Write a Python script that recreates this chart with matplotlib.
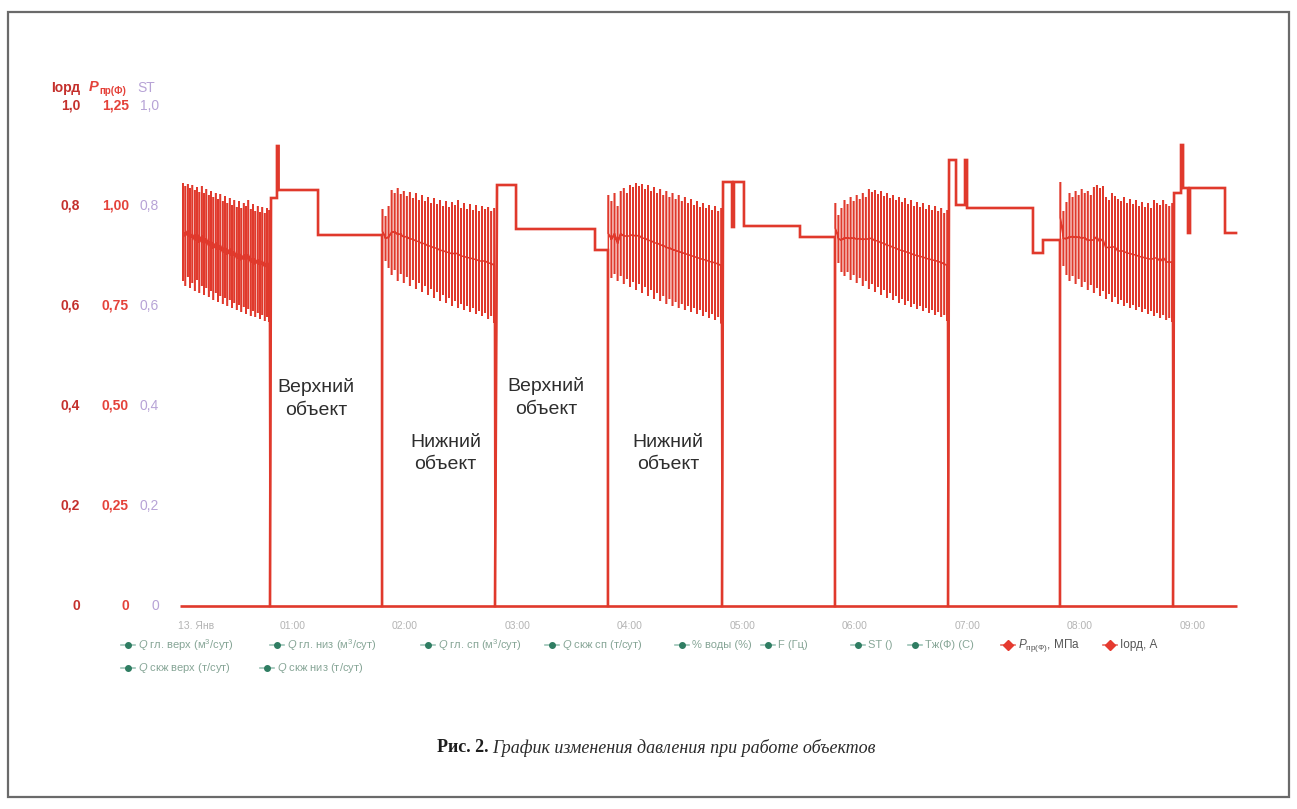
import numpy as np
import matplotlib
matplotlib.use('Agg')
import matplotlib.pyplot as plt
import matplotlib.transforms as mtransforms
from matplotlib.lines import Line2D
from matplotlib.patches import Rectangle

plt.rcParams['font.family'] = ['Liberation Sans', 'DejaVu Sans']
plt.rcParams['mathtext.fontset'] = 'custom'
plt.rcParams['mathtext.rm'] = 'Liberation Sans'
plt.rcParams['mathtext.it'] = 'Liberation Sans:italic'
plt.rcParams['mathtext.bf'] = 'Liberation Sans:bold'

W, H = 1297, 809
X0_PX, X1_PX = 180, 1237      # начало и конец оси времени (px)
Y0_PX, Y1_PX = 606, 106       # уровень 0 и 1.0 левой шкалы (px)
HOUR_PX = 112.5
T_MAX = (X1_PX - X0_PX) / HOUR_PX

LINE_RED = '#e0392c'

# 1. ДАННЫЕ (время в часах от 13 янв 00:00, значения по шкале Iорд 0..1)

hour_ticks = [0, 1, 2, 3, 4, 5, 6, 7, 8, 9]
hour_labels = ['13. Янв', '01:00', '02:00', '03:00', '04:00',
               '05:00', '06:00', '07:00', '08:00', '09:00']

iord_ticks = [0, 0.2, 0.4, 0.6, 0.8, 1.0]
iord_labels = ['0', '0,2', '0,4', '0,6', '0,8', '1,0']
p_ticks = [0, 0.25, 0.50, 0.75, 1.00, 1.25]
p_labels = ['0', '0,25', '0,50', '0,75', '1,00', '1,25']
st_ticks = [0, 0.2, 0.4, 0.6, 0.8, 1.0]
st_labels = ['0', '0,2', '0,4', '0,6', '0,8', '1,0']

# моменты переключения (провал до нуля)
drop_t = [0.800, 1.796, 2.800, 3.804, 4.818, 5.822, 6.827, 7.822, 8.827]
end_t = 9.387

# участки с пульсациями (нижний объект): начало, пики вверх и вниз
osc_start = [0.027, 1.800, 3.808, 5.826, 7.826]

osc_a_hi = [0.846, 0.840, 0.844, 0.836, 0.842, 0.832, 0.838, 0.828, 0.840, 0.826,
            0.834, 0.822, 0.830, 0.818, 0.826, 0.814, 0.824, 0.810, 0.820, 0.806,
            0.816, 0.802, 0.812, 0.798, 0.810, 0.796, 0.806, 0.800, 0.812, 0.794,
            0.804, 0.790, 0.800, 0.788, 0.798, 0.786, 0.796, 0.792]
osc_a_lo = [0.650, 0.640, 0.658, 0.636, 0.646, 0.630, 0.652, 0.626, 0.640, 0.622,
            0.636, 0.618, 0.630, 0.612, 0.626, 0.608, 0.620, 0.604, 0.616, 0.600,
            0.612, 0.596, 0.606, 0.592, 0.602, 0.588, 0.598, 0.584, 0.594, 0.580,
            0.590, 0.578, 0.586, 0.574, 0.582, 0.570, 0.578, 0.568]

osc_c_hi = [0.794, 0.780, 0.800, 0.832, 0.826, 0.836, 0.824, 0.830, 0.820, 0.828,
            0.816, 0.826, 0.812, 0.822, 0.810, 0.818, 0.806, 0.816, 0.804, 0.812,
            0.800, 0.810, 0.798, 0.808, 0.802, 0.812, 0.796, 0.806, 0.794, 0.804,
            0.792, 0.802, 0.790, 0.800, 0.794, 0.798, 0.790, 0.796]
osc_c_lo = [0.705, 0.690, 0.676, 0.662, 0.672, 0.650, 0.664, 0.646, 0.658, 0.640,
            0.652, 0.634, 0.646, 0.628, 0.640, 0.622, 0.634, 0.616, 0.628, 0.610,
            0.622, 0.606, 0.616, 0.600, 0.610, 0.596, 0.604, 0.592, 0.600, 0.588,
            0.596, 0.584, 0.590, 0.580, 0.586, 0.574, 0.580, 0.566]

osc_e_hi = [0.822, 0.810, 0.826, 0.800, 0.830, 0.836, 0.826, 0.842, 0.838, 0.846,
            0.840, 0.844, 0.834, 0.842, 0.830, 0.838, 0.826, 0.834, 0.822, 0.830,
            0.818, 0.826, 0.814, 0.822, 0.810, 0.818, 0.806, 0.814, 0.802, 0.810,
            0.798, 0.806, 0.796, 0.802, 0.792, 0.800, 0.790, 0.796]
osc_e_lo = [0.668, 0.656, 0.664, 0.650, 0.660, 0.644, 0.654, 0.638, 0.648, 0.632,
            0.644, 0.626, 0.638, 0.620, 0.632, 0.614, 0.626, 0.610, 0.620, 0.604,
            0.614, 0.600, 0.608, 0.596, 0.604, 0.592, 0.600, 0.588, 0.596, 0.584,
            0.592, 0.580, 0.588, 0.576, 0.584, 0.572, 0.578, 0.565]

osc_g_hi = [0.806, 0.782, 0.796, 0.812, 0.804, 0.818, 0.810, 0.822, 0.814, 0.826,
            0.818, 0.834, 0.828, 0.832, 0.824, 0.830, 0.820, 0.826, 0.816, 0.822,
            0.812, 0.818, 0.808, 0.816, 0.804, 0.812, 0.800, 0.808, 0.798, 0.806,
            0.794, 0.802, 0.792, 0.800, 0.790, 0.796, 0.786, 0.792]
osc_g_lo = [0.705, 0.686, 0.668, 0.660, 0.668, 0.652, 0.662, 0.646, 0.656, 0.640,
            0.650, 0.634, 0.644, 0.628, 0.638, 0.622, 0.632, 0.616, 0.626, 0.612,
            0.620, 0.606, 0.614, 0.602, 0.610, 0.598, 0.604, 0.594, 0.600, 0.590,
            0.596, 0.586, 0.592, 0.582, 0.588, 0.578, 0.582, 0.570]

osc_i_hi = [0.848, 0.790, 0.808, 0.826, 0.818, 0.830, 0.822, 0.834, 0.826, 0.830,
            0.822, 0.838, 0.842, 0.836, 0.840, 0.818, 0.812, 0.826, 0.820, 0.814,
            0.810, 0.818, 0.806, 0.814, 0.804, 0.812, 0.800, 0.808, 0.798, 0.806,
            0.796, 0.812, 0.806, 0.802, 0.812, 0.804, 0.800, 0.806]
osc_i_lo = [0.705, 0.680, 0.662, 0.650, 0.660, 0.644, 0.654, 0.638, 0.648, 0.632,
            0.642, 0.626, 0.636, 0.620, 0.630, 0.614, 0.624, 0.608, 0.618, 0.604,
            0.612, 0.600, 0.606, 0.596, 0.602, 0.592, 0.598, 0.588, 0.594, 0.584,
            0.590, 0.580, 0.586, 0.576, 0.582, 0.572, 0.576, 0.568]

# ступенчатые участки (верхний объект): время начала уровня и уровень
step_b_t = [0.809, 0.862, 0.876, 1.227]
step_b_v = [0.816, 0.920, 0.832, 0.742]
step_d_t = [2.818, 2.987, 3.689]
step_d_v = [0.842, 0.754, 0.712]
step_f_t = [4.827, 4.907, 4.924, 5.013, 5.511]
step_f_v = [0.848, 0.758, 0.848, 0.760, 0.738]
step_h_t = [6.836, 6.898, 6.978, 6.996, 7.582, 7.671]
step_h_v = [0.892, 0.802, 0.892, 0.796, 0.706, 0.732]
step_j_t = [8.836, 8.898, 8.916, 8.960, 8.978, 9.289]
step_j_v = [0.826, 0.922, 0.836, 0.746, 0.836, 0.746]

# второй ряд (Iорд) лежит на нуле
iord_t = [0, T_MAX]
iord_v = [0, 0]

# подписи режимов
zone_labels = ['Верхний\nобъект', 'Нижний\nобъект', 'Верхний\nобъект', 'Нижний\nобъект']
zone_t = [1.209, 2.36, 3.253, 4.34]
zone_v = [0.415, 0.305, 0.417, 0.305]

legend_row1 = ['$Q$ гл. верх (м$^3$/сут)', '$Q$ гл. низ (м$^3$/сут)', '$Q$ гл. сп (м$^3$/сут)',
               '$Q$ скж сп (т/сут)', '% воды (%)', 'F (Гц)', 'ST ()', 'Тж(Ф) (С)',
               '$P_{\\mathrm{пр(Ф)}}$, МПа', 'Iорд, А']
legend_row2 = ['$Q$ скж верх (т/сут)', '$Q$ скж низ (т/сут)']


# 2. СБОРКА РЯДА

def build_osc(t0, t1, hi, lo):
    """Пульсации: вертикальный размах hi-lo вокруг середины."""
    xs, ys = [], []
    for t, h, l in zip(np.linspace(t0, t1, len(hi)), hi, lo):
        m = (h + l) / 2
        xs += [t, t, t, t]
        ys += [m, h, l, m]
    return xs, ys


def build_steps(times, vals, t_end):
    xs, ys = [], []
    for i, (t, v) in enumerate(zip(times, vals)):
        t_next = times[i + 1] if i + 1 < len(times) else t_end
        xs += [t, t_next]
        ys += [v, v]
    return xs, ys


def build_pressure_series():
    """Возвращает весь ряд и отдельно ступенчатые куски (для более толстой линии)."""
    osc = [(osc_a_hi, osc_a_lo), (osc_c_hi, osc_c_lo), (osc_e_hi, osc_e_lo),
           (osc_g_hi, osc_g_lo), (osc_i_hi, osc_i_lo)]
    steps = [(step_b_t, step_b_v), (step_d_t, step_d_v), (step_f_t, step_f_v),
             (step_h_t, step_h_v), (step_j_t, step_j_v)]
    xs, ys, pieces = [], [], []
    for k in range(5):
        hi, lo = osc[k]
        ox, oy = build_osc(osc_start[k], drop_t[2 * k] - 0.006, hi, lo)
        xs += ox + [drop_t[2 * k]]
        ys += oy + [0]
        st_t, st_v = steps[k]
        has_next = 2 * k + 1 < len(drop_t)
        t_end = drop_t[2 * k + 1] if has_next else end_t
        sx, sy = build_steps(st_t, st_v, t_end)
        px_, py_ = [drop_t[2 * k]] + sx, [0] + sy
        if has_next:
            px_.append(t_end)
            py_.append(0)
        pieces.append((px_, py_))
        xs += sx
        ys += sy
        if has_next:
            xs.append(t_end)
            ys.append(0)
    return np.array(xs), np.array(ys), pieces


# 3. ОТРИСОВКА

def fx(x):
    return x / W


def fy(y):
    return 1 - y / H


def draw_chart():
    fig = plt.figure(figsize=(W / 100, H / 100), dpi=100)
    fig.patch.set_facecolor('white')

    # рамка рисунка
    fig.add_artist(Rectangle((fx(8), fy(797)), (1289 - 8) / W, (797 - 12) / H,
                             transform=fig.transFigure, fill=False, ec='#6a6a6a', lw=1.6))

    ax = fig.add_axes([fx(X0_PX), fy(Y0_PX), (X1_PX - X0_PX) / W, (Y0_PX - Y1_PX) / H])
    ax.set_xlim(0, T_MAX)
    ax.set_ylim(0, 1.0)
    ax.axis('off')

    px_t, px_v, pieces = build_pressure_series()
    ax.plot(iord_t, iord_v, color=LINE_RED, lw=1.9, clip_on=False, solid_capstyle='butt')
    ax.plot(px_t, px_v, color=LINE_RED, lw=1.1, clip_on=False, solid_joinstyle='miter')
    for sx, sy in pieces:
        ax.plot(sx, sy, color=LINE_RED, lw=1.9, clip_on=False, solid_joinstyle='miter')

    for lab, t, v in zip(zone_labels, zone_t, zone_v):
        ax.text(t, v, lab, ha='center', va='center', fontsize=14, color='#2e2e2e',
                linespacing=1.45)

    # подписи оси времени
    for h, lab in zip(hour_ticks, hour_labels):
        ha = 'left' if h == 0 else 'center'
        xpos = h * HOUR_PX + X0_PX - (2 if h == 0 else 0)
        fig.text(fx(xpos), fy(626), lab, ha=ha, va='center', fontsize=7.5, color='#b4b4b4')

    # три левые шкалы
    ytr = mtransforms.blended_transform_factory(fig.transFigure, ax.transData)
    for v, lab in zip(iord_ticks, iord_labels):
        ax.text(fx(80), v, lab, transform=ytr, ha='right', va='center',
                fontsize=10, fontweight='bold', color='#c4302c')
    for v, lab in zip(p_ticks, p_labels):
        ax.text(fx(129), v / 1.25, lab, transform=ytr, ha='right', va='center',
                fontsize=10, fontweight='bold', color='#e4423a')
    for v, lab in zip(st_ticks, st_labels):
        ax.text(fx(159), v, lab, transform=ytr, ha='right', va='center',
                fontsize=10, color='#b7a3d6')

    fig.text(fx(80), fy(88), 'Iорд', ha='right', va='center', fontsize=10,
             fontweight='bold', color='#c4302c')
    fig.text(fx(89), fy(87), 'P', ha='left', va='center', fontsize=10.5,
             fontweight='bold', fontstyle='italic', color='#e4423a')
    fig.text(fx(99), fy(91), 'пр(Ф)', ha='left', va='center', fontsize=7,
             fontweight='bold', color='#e4423a')
    fig.text(fx(137), fy(88), 'ST', ha='left', va='center', fontsize=10, color='#b7a3d6')

    # легенда
    row1_x = [128, 277, 428, 552, 682, 768, 858, 915, 1008, 1110]
    row2_x = [128, 267]
    items = [(lab, x, 645) for lab, x in zip(legend_row1, row1_x)] + \
            [(lab, x, 668) for lab, x in zip(legend_row2, row2_x)]
    for lab, x, y in items:
        red = lab.startswith('$P') or lab.startswith('Iорд')
        mcol = '#e53a2f' if red else '#2f7d62'
        lcol = '#e86a60' if red else '#9cc4b6'
        fig.add_artist(Line2D([fx(x - 7), fx(x + 7)], [fy(y), fy(y)], transform=fig.transFigure,
                              color=lcol, lw=1.2))
        fig.add_artist(Line2D([fx(x)], [fy(y)], transform=fig.transFigure, marker='D' if red else 'o',
                              ms=5 if red else 4, color=mcol, lw=0))
        fig.text(fx(x + 10), fy(y), lab, ha='left', va='center', fontsize=8.5 if red else 8,
                 color='#555555' if red else '#86a596')

    # подпись рисунка
    fig.text(fx(488), fy(748), 'Рис. 2.', ha='right', va='center', fontsize=13,
             fontweight='bold', family=['Liberation Serif', 'DejaVu Serif'], color='#1e1e1e')
    fig.text(fx(492), fy(748), 'График изменения давления при работе объектов', ha='left',
             va='center', fontsize=13, fontstyle='italic',
             family=['Liberation Serif', 'DejaVu Serif'], color='#2a2a2a')

    fig.savefig('out.png', dpi=100)


if __name__ == "__main__":
    draw_chart()
